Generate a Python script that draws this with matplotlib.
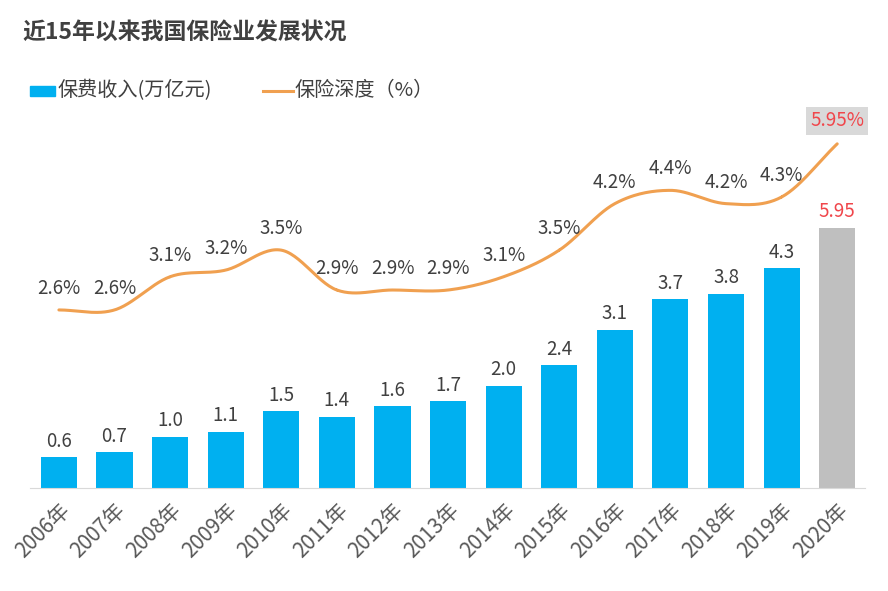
import matplotlib
matplotlib.use("Agg")
import matplotlib.pyplot as plt
import numpy as np

plt.rcParams["font.family"] = ["Noto Sans CJK SC", "DejaVu Sans"]

years = ["2006年", "2007年", "2008年", "2009年", "2010年", "2011年", "2012年", "2013年",
         "2014年", "2015年", "2016年", "2017年", "2018年", "2019年", "2020年"]
# bar heights as drawn (2020 bar is drawn shorter than its 5.95 label)
premium = [0.6, 0.7, 1.0, 1.1, 1.5, 1.4, 1.6, 1.7, 2.0, 2.4, 3.1, 3.7, 3.8, 4.3, 5.1]
premium_labels = ["0.6", "0.7", "1.0", "1.1", "1.5", "1.4", "1.6", "1.7", "2.0", "2.4",
                  "3.1", "3.7", "3.8", "4.3", "5.95"]
# insurance depth (%), 2020 point drawn at ~5.1 but labelled 5.95%
depth = [2.6, 2.6, 3.1, 3.2, 3.5, 2.9, 2.9, 2.9, 3.1, 3.5, 4.2, 4.4, 4.2, 4.3, 5.1]
depth_labels = ["2.6%", "2.6%", "3.1%", "3.2%", "3.5%", "2.9%", "2.9%", "2.9%", "3.1%",
                "3.5%", "4.2%", "4.4%", "4.2%", "4.3%", "5.95%"]

BLUE = "#00b0f0"
GREY_BAR = "#bfbfbf"
ORANGE = "#f0a050"
TEXT = "#404040"
RED = "#f0464b"


def catmull_rom(x, y, steps=30):
    x = np.asarray(x, float)
    y = np.asarray(y, float)
    px = np.concatenate([[2 * x[0] - x[1]], x, [2 * x[-1] - x[-2]]])
    py = np.concatenate([[2 * y[0] - y[1]], y, [2 * y[-1] - y[-2]]])
    xs, ys = [], []
    t = np.linspace(0, 1, steps)
    for i in range(1, len(px) - 2):
        for p, out in ((px, xs), (py, ys)):
            p0, p1, p2, p3 = p[i - 1], p[i], p[i + 1], p[i + 2]
            out.append(0.5 * (2 * p1 + (-p0 + p2) * t + (2 * p0 - 5 * p1 + 4 * p2 - p3) * t ** 2
                              + (-p0 + 3 * p1 - 3 * p2 + p3) * t ** 3))
    return np.concatenate(xs), np.concatenate(ys)


fig = plt.figure(figsize=(8.88, 5.91), dpi=100)
ax = fig.add_axes([30 / 888, 103 / 591, 835 / 888, 388 / 591])
ax2 = ax.twinx()

x = np.arange(len(years))
colors = [BLUE] * (len(years) - 1) + [GREY_BAR]
ax.bar(x, premium, width=0.65, color=colors, zorder=2)
for i, (v, lab) in enumerate(zip(premium, premium_labels)):
    ax.annotate(lab, (i, v), xytext=(0, 4), textcoords="offset points", ha="center", va="bottom",
                fontsize=13.5, color=RED if i == len(years) - 1 else TEXT)

ax.set_xlim(-0.52, 14.5)
ax.set_ylim(0, 7.6)
ax.set_yticks([])
for s in ["top", "right", "left"]:
    ax.spines[s].set_visible(False)
ax.spines["bottom"].set_color("#d9d9d9")
ax.set_xticks(x)
ax.set_xticklabels(years, rotation=45, ha="right", rotation_mode="anchor", fontsize=15, color="#595959")
ax.tick_params(axis="x", length=0, pad=8)

sx, sy = catmull_rom(x, depth)
ax2.plot(sx, sy, color=ORANGE, lw=2.2, solid_capstyle="round")
ax2.set_ylim(-0.08, 5.76)
ax2.set_yticks([])
for s in ax2.spines.values():
    s.set_visible(False)
for i, (v, lab) in enumerate(zip(depth, depth_labels)):
    if i == len(years) - 1:
        ax2.annotate(lab, (i, v), xytext=(0, 9), textcoords="offset points", ha="center", va="bottom",
                     fontsize=13.5, color=RED,
                     bbox=dict(boxstyle="square,pad=0.2", fc="#d9d9d9", ec="none"))
    else:
        ax2.annotate(lab, (i, v), xytext=(0, 8), textcoords="offset points", ha="center", va="bottom",
                     fontsize=13.5, color=TEXT)

fig.text(22 / 888, 1 - 33 / 591, "近15年以来我国保险业发展状况", fontsize=16.5, fontweight="bold",
         color=TEXT, va="center", ha="left")

# legend
ly = 1 - 91 / 591
fig.patches.append(plt.Rectangle((30 / 888, ly - 5 / 591), 25 / 888, 10 / 591,
                                 transform=fig.transFigure, color=BLUE))
fig.text(58 / 888, ly, "保费收入(万亿元)", fontsize=14.5, color=TEXT, va="center", ha="left")
fig.lines.append(plt.Line2D([263 / 888, 293 / 888], [ly, ly], transform=fig.transFigure,
                            color=ORANGE, lw=2.2))
fig.text(295 / 888, ly, "保险深度（%）", fontsize=14.5, color=TEXT, va="center", ha="left")

fig.savefig("out.png", dpi=100)
